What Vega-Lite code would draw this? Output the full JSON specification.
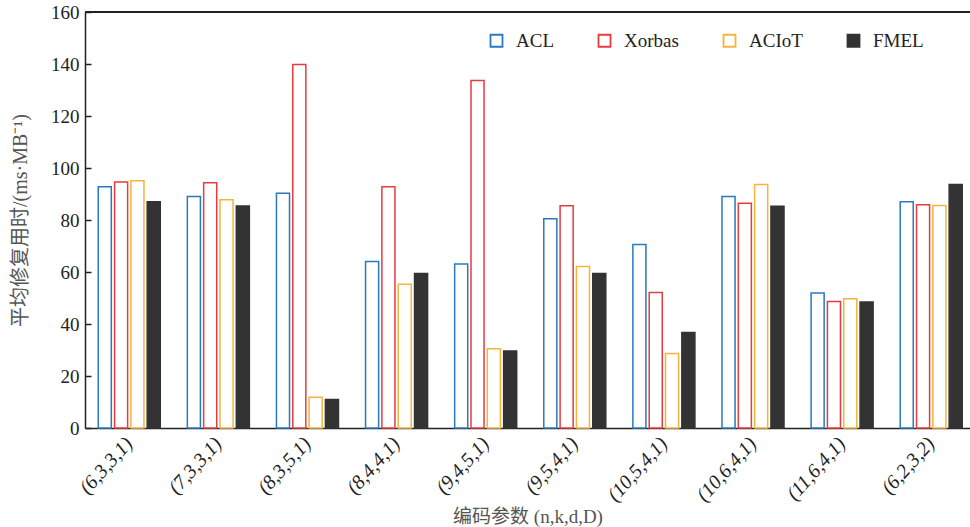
{
  "$schema": "https://vega.github.io/schema/vega-lite/v6.json",
  "width": 885,
  "height": 416,
  "autosize": {"type": "none"},
  "padding": {"left": 85, "top": 12, "right": 0, "bottom": 99},
  "config": {"view": {"stroke": null}, "font": "Liberation Serif"},
  "data": {
    "values": [
      {"group": "(6,3,3,1)", "method": "ACL", "value": 92.8},
      {"group": "(6,3,3,1)", "method": "Xorbas", "value": 94.6},
      {"group": "(6,3,3,1)", "method": "ACIoT", "value": 95.1},
      {"group": "(6,3,3,1)", "method": "FMEL", "value": 87.0},
      {"group": "(7,3,3,1)", "method": "ACL", "value": 89.0},
      {"group": "(7,3,3,1)", "method": "Xorbas", "value": 94.3},
      {"group": "(7,3,3,1)", "method": "ACIoT", "value": 87.8},
      {"group": "(7,3,3,1)", "method": "FMEL", "value": 85.4},
      {"group": "(8,3,5,1)", "method": "ACL", "value": 90.3},
      {"group": "(8,3,5,1)", "method": "Xorbas", "value": 139.8},
      {"group": "(8,3,5,1)", "method": "ACIoT", "value": 11.8},
      {"group": "(8,3,5,1)", "method": "FMEL", "value": 11.0},
      {"group": "(8,4,4,1)", "method": "ACL", "value": 64.0},
      {"group": "(8,4,4,1)", "method": "Xorbas", "value": 92.8},
      {"group": "(8,4,4,1)", "method": "ACIoT", "value": 55.3},
      {"group": "(8,4,4,1)", "method": "FMEL", "value": 59.4},
      {"group": "(9,4,5,1)", "method": "ACL", "value": 63.1},
      {"group": "(9,4,5,1)", "method": "Xorbas", "value": 133.7},
      {"group": "(9,4,5,1)", "method": "ACIoT", "value": 30.5},
      {"group": "(9,4,5,1)", "method": "FMEL", "value": 29.6},
      {"group": "(9,5,4,1)", "method": "ACL", "value": 80.5},
      {"group": "(9,5,4,1)", "method": "Xorbas", "value": 85.5},
      {"group": "(9,5,4,1)", "method": "ACIoT", "value": 62.1},
      {"group": "(9,5,4,1)", "method": "FMEL", "value": 59.4},
      {"group": "(10,5,4,1)", "method": "ACL", "value": 70.6},
      {"group": "(10,5,4,1)", "method": "Xorbas", "value": 52.1},
      {"group": "(10,5,4,1)", "method": "ACIoT", "value": 28.7},
      {"group": "(10,5,4,1)", "method": "FMEL", "value": 36.7},
      {"group": "(10,6,4,1)", "method": "ACL", "value": 89.0},
      {"group": "(10,6,4,1)", "method": "Xorbas", "value": 86.4},
      {"group": "(10,6,4,1)", "method": "ACIoT", "value": 93.7},
      {"group": "(10,6,4,1)", "method": "FMEL", "value": 85.3},
      {"group": "(11,6,4,1)", "method": "ACL", "value": 51.9},
      {"group": "(11,6,4,1)", "method": "Xorbas", "value": 48.7},
      {"group": "(11,6,4,1)", "method": "ACIoT", "value": 49.7},
      {"group": "(11,6,4,1)", "method": "FMEL", "value": 48.5},
      {"group": "(6,2,3,2)", "method": "ACL", "value": 87.0},
      {"group": "(6,2,3,2)", "method": "Xorbas", "value": 85.9},
      {"group": "(6,2,3,2)", "method": "ACIoT", "value": 85.6},
      {"group": "(6,2,3,2)", "method": "FMEL", "value": 93.7}
    ]
  },
  "layer": [
    {
      "mark": {"type": "bar", "strokeWidth": 1.5},
      "encoding": {
        "x": {
          "field": "group",
          "type": "nominal",
          "sort": null,
          "scale": {"paddingInner": 0.304, "paddingOuter": 0.118, "align": 0.63},
          "axis": {
            "title": "编码参数 (n,k,d,D)",
            "titleFont": "Liberation Serif, Noto Sans CJK SC",
            "titleFontSize": 19,
            "titleFontWeight": "normal",
            "titleColor": "#555555",
            "titlePadding": 3,
            "ticks": false,
            "domainColor": "#222222",
            "domainWidth": 1.5,
            "labelAngle": -48,
            "labelAlign": "right",
            "labelBaseline": "middle",
            "labelPadding": 12,
            "labelFont": "Liberation Serif",
            "labelFontStyle": "italic",
            "labelFontSize": 20,
            "labelColor": "#222222"
          }
        },
        "xOffset": {
          "field": "method",
          "sort": ["ACL", "Xorbas", "ACIoT", "FMEL"],
          "scale": {"paddingInner": 0.2, "paddingOuter": 0}
        },
        "y": {
          "field": "value",
          "type": "quantitative",
          "scale": {"domain": [0, 160], "nice": false},
          "axis": {
            "title": "平均修复用时/(ms·MB⁻¹)",
            "titleFont": "Liberation Serif, Noto Sans CJK SC",
            "titleFontSize": 20,
            "titleFontWeight": "normal",
            "titleColor": "#555555",
            "titlePadding": 20,
            "values": [0, 20, 40, 60, 80, 100, 120, 140, 160],
            "grid": false,
            "domainColor": "#222222",
            "domainWidth": 1.5,
            "tickColor": "#222222",
            "tickSize": -6,
            "tickWidth": 1.5,
            "labelFont": "Liberation Serif",
            "labelFontSize": 19,
            "labelColor": "#222222",
            "labelPadding": 12
          }
        },
        "fill": {
          "field": "method",
          "scale": {"domain": ["ACL", "Xorbas", "ACIoT", "FMEL"], "range": ["#ffffff", "#ffffff", "#ffffff", "#333333"]},
          "legend": {
            "orient": "none",
            "legendX": 402,
            "legendY": 19,
            "direction": "horizontal",
            "title": null,
            "symbolType": "square",
            "symbolSize": 144,
            "symbolStrokeWidth": 1.8,
            "labelFont": "Liberation Serif",
            "labelFontSize": 19,
            "labelColor": "#222222",
            "labelOffset": 10,
            "columnPadding": 40
          }
        },
        "stroke": {
          "field": "method",
          "scale": {"domain": ["ACL", "Xorbas", "ACIoT", "FMEL"], "range": ["#2a78c0", "#e63c3f", "#f6b43c", "#333333"]},
          "legend": {
            "orient": "none",
            "legendX": 402,
            "legendY": 19,
            "direction": "horizontal",
            "title": null,
            "symbolType": "square",
            "symbolSize": 144,
            "symbolStrokeWidth": 1.8,
            "labelFont": "Liberation Serif",
            "labelFontSize": 19,
            "labelColor": "#222222",
            "labelOffset": 10,
            "columnPadding": 40
          }
        }
      }
    },
    {
      "mark": {"type": "rule", "color": "#222222", "strokeWidth": 1.5},
      "encoding": {"y": {"datum": 160, "type": "quantitative"}}
    }
  ]
}
